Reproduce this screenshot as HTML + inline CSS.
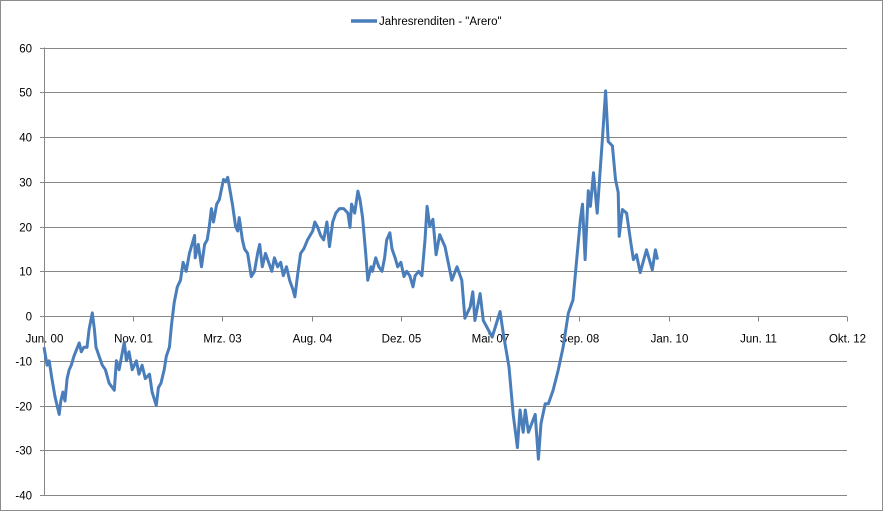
<!DOCTYPE html>
<html><head><meta charset="utf-8"><style>
html,body{margin:0;padding:0;background:#fff}
svg{display:block;font-family:"Liberation Sans",sans-serif}
</style></head><body>
<svg id="chart" width="884" height="512">
<rect x="0.5" y="0.5" width="882" height="510" fill="#fff" stroke="#8c8c8c"/>
<g id="grid"></g><g id="axes"></g><g id="series"></g>
<g>
<line x1="351" y1="21" x2="377" y2="21" stroke="#4a7ebb" stroke-width="3.5"/>
<text x="379" y="25" font-size="11.5" fill="#000">Jahresrenditen - "Arero"</text>
</g>
</svg>
<script>
const tickLabels=["Jun. 00","Nov. 01","Mrz. 03","Aug. 04","Dez. 05","Mai. 07","Sep. 08","Jan. 10","Jun. 11","Okt. 12"];
const yTicks=[60,50,40,30,20,10,0,-10,-20,-30,-40];
const months=[0,0.6,1.0,1.5,2.1,2.5,2.9,3.2,3.6,4.0,4.4,4.8,5.2,5.7,6.7,7.1,7.6,8.2,8.6,9.2,9.6,9.9,10.5,11.1,11.7,12.4,13.4,13.8,14.3,15.3,15.7,16.2,16.8,17.6,18.1,18.7,19.3,20.1,20.6,21.4,21.8,22.3,22.9,23.3,23.9,24.3,24.8,25.4,26.0,26.5,27.1,27.7,28.7,28.8,29.4,30.0,30.6,31.1,31.5,31.9,32.3,32.9,33.4,34.2,34.6,35.0,35.3,35.9,36.5,36.9,37.2,37.8,38.2,38.8,39.5,40.1,40.7,41.1,41.6,42.2,42.8,43.4,43.9,44.5,45.1,45.6,46.2,46.8,47.4,47.8,48.3,48.9,49.5,50.2,51.2,51.6,52.1,52.7,53.3,53.9,54.4,55.0,55.6,56.3,57.1,57.9,58.3,58.6,59.2,59.8,60.2,60.7,61.3,61.7,62.3,62.6,63.2,63.8,64.4,64.9,65.3,65.9,66.3,66.9,67.4,68.0,68.6,69.1,69.7,70.3,70.7,71.4,72.0,72.6,73.0,73.5,74.1,74.7,75.4,76.4,77.7,78.7,79.6,80.2,81.2,81.7,82.1,83.1,83.7,85.4,86.9,87.5,88.6,89.4,90.2,90.7,91.3,91.7,92.3,93.6,94.2,94.7,95.5,96.1,97.0,98.0,98.9,99.9,100.8,102.2,102.6,103.1,103.7,104.1,104.7,105.4,106.0,106.4,107.0,107.5,108.3,108.9,109.4,109.6,110.2,111.0,111.8,112.3,112.9,113.6,114.8,115.9,116.5,116.9,117.7,118.4];
const values=[-7,-11,-10,-14,-18,-20,-22,-19,-17,-19,-14,-12,-11,-9,-6,-8,-7,-7,-3,0.7,-3,-7,-9,-11,-12,-15,-16.6,-10,-12,-5.8,-10,-8,-12,-10,-13,-11,-14,-13,-17,-20,-16,-15,-12,-9,-7,-2,3,6.5,8,12,10,14,18,13,16,11,16,17,20,24,21,25,26,30.5,30,31,29,25,20,19,22,17,15,14,8.8,10,14,16,11,14,12,10,13,11,12,9,11,8,6,4.3,9,14,15,17,19,21,20,18,17,21,15.5,21,23,24,24,23,19.8,25,23,27.9,26,22,14,8,11,10,13,11,10,13,17,18.6,15,13,11,12,8.8,10,9,6.5,9,10,9,17,24.5,20,21.6,13.7,18.2,15.5,8,11,8,-0.5,2,5.4,-1,5,-1,-4.7,1,-3.8,-11.4,-22,-29.4,-21,-26,-21,-26,-22,-32,-24,-19.6,-19.6,-16.6,-12,-7,0.6,3.6,21.6,25,12.6,28,24.5,32,23,33,39.5,50.3,39,38,30.5,27.6,17.8,23.8,23,16.4,12.6,13.7,9.7,14.8,10.3,14.8,12.6];
const NS='http://www.w3.org/2000/svg';
const X0=44,X1=847,Y0=47.5,Y1=495;
function xScale(m){return X0+m/153*(X1-X0);}
function yScale(v){return Y0+(60-v)/100*(Y1-Y0);}
function mk(tag,attrs,parent){const e=document.createElementNS(NS,tag);for(const k in attrs)e.setAttribute(k,attrs[k]);parent.appendChild(e);return e;}
const grid=document.getElementById('grid'),axes=document.getElementById('axes'),series=document.getElementById('series');
yTicks.forEach(v=>{
  const y=Math.round(yScale(v))+0.5;
  const g=mk('line',{x1:X0,y1:y,x2:X1,y2:y,stroke:'#868686','stroke-width':1},grid);
  
  
  const t=mk('line',{x1:X0-4,y1:y,x2:X0,y2:y,stroke:'#868686'},axes);
  
  
  const l=mk('text',{x:32,y:y+4,'text-anchor':'end','font-size':'11.5',fill:'#000'},axes);
  l.textContent=v;
  
  
});
const ya=mk('line',{x1:X0+0.5,y1:Y0,x2:X0+0.5,y2:Y1,stroke:'#868686'},axes);


const y0=Math.round(yScale(0))+0.5;
tickLabels.forEach((s,i)=>{
  const x=Math.round(xScale(i*17))+0.5;
  const t=mk('line',{x1:x,y1:y0,x2:x,y2:y0+5,stroke:'#868686'},axes);
  
  
  const l=mk('text',{x:x,y:y0+26,'text-anchor':'middle','font-size':'11.5',fill:'#000'},axes);
  l.textContent=s;
  
  
});
const d=months.map((m,i)=>(i?'L':'M')+xScale(m).toFixed(1)+' '+yScale(values[i]).toFixed(1)).join(' ');
const p=mk('path',{d:d,fill:'none',stroke:'#4a7ebb','stroke-width':3,'stroke-linejoin':'round'},series);


</script>
</body></html>
